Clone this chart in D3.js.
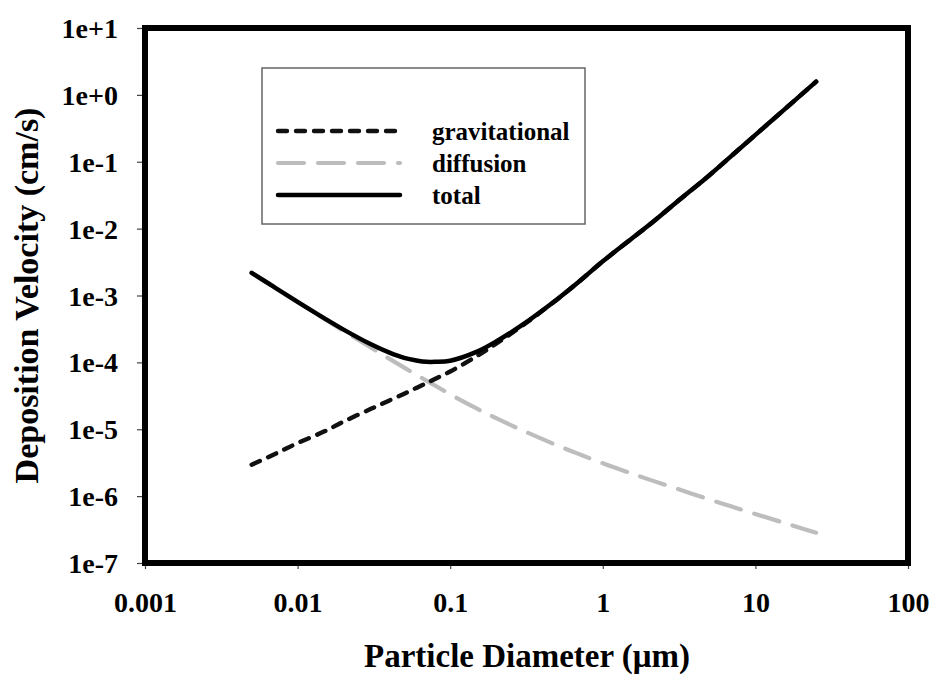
<!DOCTYPE html>
<html><head><meta charset="utf-8">
<script src="https://cdn.jsdelivr.net/npm/d3@7/dist/d3.min.js"></script>
<style>body{margin:0;background:#fff}svg{display:block}svg text{font-family:"Times New Roman","Liberation Serif","DejaVu Serif",serif !important;font-weight:bold;fill:#000}</style>
</head><body>
<svg id="chart" width="933" height="678"></svg>
<script>
// Particle diameter (µm)
const diameters = [0.005, 0.007, 0.01, 0.015, 0.02, 0.03, 0.04, 0.05, 0.06, 0.07, 0.08, 0.1, 0.15, 0.2, 0.3, 0.5, 0.7, 1, 1.5, 2, 3, 5, 7, 10, 15, 20, 25];
// Deposition velocity (cm/s)
const gravitational = [2.95e-6, 4.2e-6, 6.2e-6, 9.3e-6, 1.3e-5, 2.0e-5, 2.7e-5, 3.4e-5, 4.15e-5, 4.9e-5, 5.7e-5, 7.3e-5, 1.25e-4, 1.9e-4, 3.6e-4, 8.67e-4, 1.62e-3, 3.24e-3, 6.72e-3, 1.12e-2, 2.42e-2, 6.3e-2, 0.1235, 0.252, 0.567, 1.008, 1.575];
const diffusion = [2.18e-3, 1.34e-3, 7.98e-4, 4.46e-4, 2.96e-4, 1.68e-4, 1.13e-4, 8.34e-5, 6.53e-5, 5.31e-5, 4.47e-5, 3.33e-5, 2.03e-5, 1.47e-5, 9.53e-6, 5.77e-6, 4.24e-6, 3.10e-6, 2.23e-6, 1.78e-6, 1.31e-6, 8.9e-7, 6.98e-7, 5.4e-7, 4.06e-7, 3.32e-7, 2.84e-7];
const total = [2.183e-3, 1.344e-3, 8.04e-4, 4.55e-4, 3.09e-4, 1.88e-4, 1.40e-4, 1.17e-4, 1.07e-4, 1.02e-4, 1.02e-4, 1.06e-4, 1.45e-4, 2.05e-4, 3.70e-4, 8.73e-4, 1.62e-3, 3.24e-3, 6.72e-3, 1.12e-2, 2.42e-2, 6.3e-2, 0.1235, 0.252, 0.567, 1.008, 1.575];
const xTicks = [0.001, 0.01, 0.1, 1, 10, 100];
const xTickLabels = ["0.001", "0.01", "0.1", "1", "10", "100"];
const yTicks = [1e1, 1e0, 1e-1, 1e-2, 1e-3, 1e-4, 1e-5, 1e-6, 1e-7];
const yTickLabels = ["1e+1", "1e+0", "1e-1", "1e-2", "1e-3", "1e-4", "1e-5", "1e-6", "1e-7"];
const seriesNames = ["gravitational", "diffusion", "total"];

const FONT = '"Times New Roman","Liberation Serif",serif';
const svg = d3.select("#chart");
const L = 145, R = 908, T = 28, B = 563;
const x = d3.scaleLog().domain([0.001, 100]).range([L, R]);
const y = d3.scaleLog().domain([1e-7, 10]).range([B, T]);

// axes ticks
const xAxis = d3.axisBottom(x).tickValues(xTicks).tickSize(6).tickFormat((d, i) => xTickLabels[i]);
const gx = svg.append("g").attr("transform", `translate(0,${B})`).call(xAxis)
  .attr("font-family", FONT).attr("font-size", 28).attr("font-weight", "bold");
gx.select(".domain").remove();
gx.selectAll(".tick line").attr("stroke", "#444").attr("stroke-width", 1.2);
gx.selectAll(".tick text").attr("y", 49).attr("dy", 0);

const yAxis = d3.axisLeft(y).tickValues(yTicks).tickSize(8).tickFormat((d, i) => yTickLabels[i]);
const gy = svg.append("g").attr("transform", `translate(${L},0)`).call(yAxis)
  .attr("font-family", FONT).attr("font-size", 28).attr("font-weight", "bold");
gy.select(".domain").remove();
gy.selectAll(".tick line").attr("stroke", "#444").attr("stroke-width", 1.2);
gy.selectAll(".tick text").attr("x", -27).attr("dy", "0.34em");

// series
const mk = vals => diameters.map((d, i) => [d, vals[i]]);
const line = d3.line().x(d => x(d[0])).y(d => y(d[1])).curve(d3.curveCatmullRom.alpha(0.5));
const styles = {
  gravitational: {stroke: "#111", width: 4.4, dash: "9,9"},
  diffusion: {stroke: "#bdbdbd", width: 4.2, dash: "26,14"},
  total: {stroke: "#000", width: 4.5, dash: null}
};
const data = {gravitational, diffusion, total};
["diffusion", "gravitational", "total"].forEach(n => {
  svg.append("path").datum(mk(data[n])).attr("d", line)
    .attr("fill", "none").attr("stroke", styles[n].stroke).attr("stroke-width", styles[n].width)
    .attr("stroke-linecap", "round").attr("stroke-dasharray", styles[n].dash);
});

// frame
svg.append("rect").attr("x", L).attr("y", T).attr("width", R - L).attr("height", B - T)
  .attr("fill", "none").attr("stroke", "#000").attr("stroke-width", 6);

// legend
const lg = svg.append("g");
lg.append("rect").attr("x", 262).attr("y", 68).attr("width", 323).attr("height", 156)
  .attr("fill", "#fff").attr("stroke", "#666").attr("stroke-width", 1.5);
const ly = [131, 163, 195];
seriesNames.forEach((n, i) => {
  lg.append("line").attr("x1", 278).attr("x2", 400).attr("y1", ly[i]).attr("y2", ly[i])
    .attr("stroke", styles[n].stroke).attr("stroke-width", styles[n].width)
    .attr("stroke-linecap", "round").attr("stroke-dasharray", styles[n].dash);
  lg.append("text").attr("x", 432).attr("y", ly[i]).attr("dy", "0.35em")
    .attr("font-family", FONT).attr("font-size", 25).text(n);
});

// titles
svg.append("text").attr("x", 527).attr("y", 667).attr("text-anchor", "middle")
  .attr("font-family", FONT).attr("font-size", 33).text("Particle Diameter (μm)");
svg.append("text").attr("transform", `translate(38,${(T + B) / 2}) rotate(-90)`).attr("text-anchor", "middle")
  .attr("font-family", FONT).attr("font-size", 34).text("Deposition Velocity (cm/s)");
</script>
</body></html>
